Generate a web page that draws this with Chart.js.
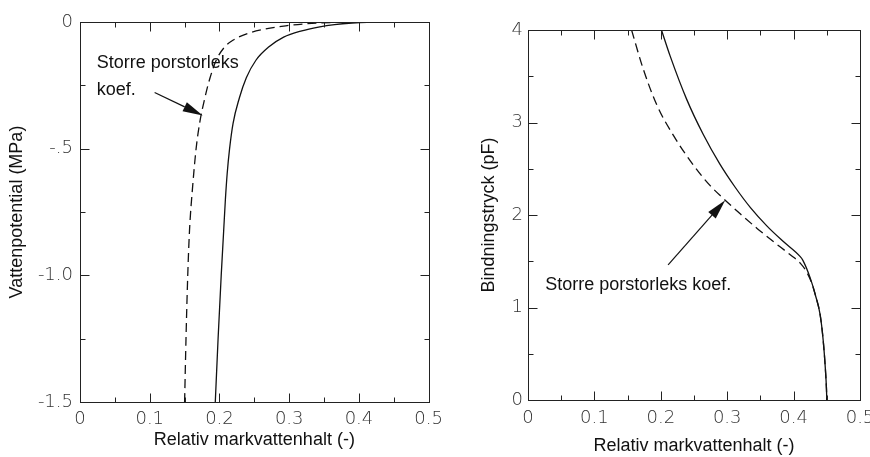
<!DOCTYPE html>
<html>
<head>
<meta charset="utf-8">
<script src="https://cdn.jsdelivr.net/npm/chart.js@4.4.1/dist/chart.umd.min.js"></script>
<style>
  html, body { margin: 0; padding: 0; background: #fff; width: 870px; height: 457px; overflow: hidden; }
  canvas { position: absolute; top: 0; }
  #leftChart { left: 0; }
  #rightChart { left: 450px; }
</style>
</head>
<body>
<canvas id="leftChart" width="450" height="457"></canvas>
<canvas id="rightChart" width="440" height="457"></canvas>
<script>
// Tick labels
const xTickLabels = ['0', '0.1', '0.2', '0.3', '0.4', '0.5'];
const leftYTickLabels = { '-1.5': '-1.5', '-1': '-1.0', '-0.5': '-.5', '0': '0' };
const rightYTickLabels = ['0', '1', '2', '3', '4'];

// Left chart: water potential (MPa) vs relative moisture content
const leftSolidX = [0.194, 0.198, 0.2025, 0.206, 0.2085, 0.211, 0.2145, 0.2195, 0.2285, 0.2385, 0.2525, 0.270, 0.292, 0.318, 0.342, 0.365, 0.390, 0.430, 0.500];
const leftSolidY = [-1.5, -1.25, -1.0, -0.825, -0.7, -0.6, -0.5, -0.4, -0.3, -0.22, -0.15, -0.10, -0.06, -0.035, -0.02, -0.01, -0.004, 0, 0];
const leftDashX = [0.150, 0.152, 0.1545, 0.157, 0.1615, 0.1665, 0.1715, 0.179, 0.1865, 0.1955, 0.207, 0.2205, 0.2405, 0.265, 0.295, 0.325, 0.360, 0.400, 0.500];
const leftDashY = [-1.5, -1.25, -1.0, -0.825, -0.65, -0.5, -0.4, -0.3, -0.22, -0.15, -0.10, -0.07, -0.045, -0.028, -0.015, -0.007, -0.002, 0, 0];

// Right chart: pF vs relative moisture content
const rightSolidX = [0.201, 0.214, 0.239, 0.264, 0.289, 0.312, 0.335, 0.360, 0.385, 0.410, 0.414, 0.425, 0.433, 0.440, 0.4445, 0.448, 0.4495, 0.450];
const rightSolidY = [4.0, 3.72, 3.25, 2.87, 2.55, 2.30, 2.08, 1.88, 1.71, 1.55, 1.51, 1.32, 1.13, 0.92, 0.65, 0.32, 0.12, 0];
const rightDashX = [0.156, 0.173, 0.194, 0.219, 0.249, 0.274, 0.297, 0.320, 0.345, 0.370, 0.395, 0.410, 0.420, 0.428, 0.433, 0.440, 0.4445, 0.448, 0.4495, 0.450];
const rightDashY = [4.0, 3.59, 3.19, 2.86, 2.54, 2.32, 2.16, 2.01, 1.855, 1.71, 1.57, 1.48, 1.38, 1.25, 1.13, 0.92, 0.65, 0.32, 0.12, 0];

const toPoints = (xs, ys) => xs.map((v, i) => ({ x: v, y: ys[i] }));

const tickFont = { family: "'DejaVu Sans', sans-serif", size: 18, weight: 200 };
const titleFont = { family: "'Liberation Sans', Arial, sans-serif", size: 18 };
const noteFont = "18px 'Liberation Sans', Arial, sans-serif";

// frame, inward ticks on all four sides, text notes and arrow
const frameAndTicks = {
  id: 'frameAndTicks',
  afterDatasetsDraw(chart, args, opts) {
    const { ctx, chartArea: a, scales: { x, y } } = chart;
    const L = Math.round(a.left) + 0.5, R = Math.round(a.right) + 0.5;
    const T = Math.round(a.top) + 0.5, B = Math.round(a.bottom) + 0.5;
    ctx.save();
    ctx.strokeStyle = '#222';
    ctx.lineWidth = 1;
    ctx.strokeRect(L, T, R - L, B - T);

    ctx.beginPath();
    let n = Math.round((x.max - x.min) / opts.xMinor);
    for (let i = 0; i <= n; i++) {
      const v = x.min + i * opts.xMinor;
      const px = Math.round(x.getPixelForValue(v)) + 0.5;
      const len = (i % opts.xEvery === 0) ? 9 : 5;
      ctx.moveTo(px, B); ctx.lineTo(px, B - len);
      ctx.moveTo(px, T); ctx.lineTo(px, T + len);
    }
    n = Math.round((y.max - y.min) / opts.yMinor);
    for (let i = 0; i <= n; i++) {
      const v = y.min + i * opts.yMinor;
      const py = Math.round(y.getPixelForValue(v)) + 0.5;
      const len = (i % opts.yEvery === 0) ? 9 : 5;
      ctx.moveTo(L, py); ctx.lineTo(L + len, py);
      ctx.moveTo(R, py); ctx.lineTo(R - len, py);
    }
    ctx.stroke();

    // notes
    ctx.fillStyle = '#111';
    ctx.font = noteFont;
    ctx.textBaseline = 'middle';
    ctx.textAlign = 'left';
    opts.notes.forEach(nt => {
      ctx.fillText(nt.text, x.getPixelForValue(nt.x), y.getPixelForValue(nt.y));
    });

    // arrow
    const ar = opts.arrow;
    const x0 = x.getPixelForValue(ar.from[0]), y0 = y.getPixelForValue(ar.from[1]);
    const x1 = x.getPixelForValue(ar.to[0]), y1 = y.getPixelForValue(ar.to[1]);
    const ang = Math.atan2(y1 - y0, x1 - x0);
    const hl = 20, hw = 5;
    const bx = x1 - hl * Math.cos(ang), by = y1 - hl * Math.sin(ang);
    ctx.strokeStyle = '#111';
    ctx.lineWidth = 1.2;
    ctx.beginPath();
    ctx.moveTo(x0, y0); ctx.lineTo(bx, by);
    ctx.stroke();
    ctx.beginPath();
    ctx.moveTo(x1, y1);
    ctx.lineTo(bx + hw * Math.sin(ang), by - hw * Math.cos(ang));
    ctx.lineTo(bx - hw * Math.sin(ang), by + hw * Math.cos(ang));
    ctx.closePath();
    ctx.fill();
    ctx.restore();
  }
};

function curve(points, dashed) {
  return {
    data: points,
    borderColor: '#111',
    borderWidth: 1.3,
    borderDash: dashed ? [9, 5] : [],
    pointRadius: 0,
    fill: false,
    cubicInterpolationMode: 'monotone'
  };
}

function makeChart(id, cfg) {
  return new Chart(document.getElementById(id), {
    type: 'line',
    data: {
      datasets: [curve(cfg.solid, false), curve(cfg.dash, true)]
    },
    options: {
      responsive: false,
      animation: false,
      layout: { padding: cfg.padding },
      plugins: {
        legend: { display: false },
        tooltip: { enabled: false },
        frameAndTicks: cfg.extras
      },
      scales: {
        x: {
          type: 'linear',
          min: 0, max: 0.5,
          grid: { display: false, drawTicks: false },
          border: { display: false },
          ticks: {
            stepSize: 0.1,
            padding: cfg.xTickPad,
            color: '#333',
            font: tickFont,
            maxRotation: 0,
            callback: (v) => xTickLabels[Math.round(v * 10)]
          },
          title: { display: true, text: 'Relativ markvattenhalt (-)', color: '#111', font: titleFont, padding: cfg.xTitlePad },
          afterFit: (s) => { s.height = cfg.xHeight; }
        },
        y: {
          type: 'linear',
          min: cfg.yMin, max: cfg.yMax,
          grid: { display: false, drawTicks: false },
          border: { display: false },
          ticks: {
            stepSize: cfg.yStep,
            padding: cfg.yTickPad,
            color: '#333',
            font: tickFont,
            callback: cfg.yLabel
          },
          title: { display: true, text: cfg.yTitle, color: '#111', font: titleFont, padding: { top: 6, bottom: 4 } },
          afterFit: (s) => { s.width = cfg.yWidth; }
        }
      }
    },
    plugins: [frameAndTicks]
  });
}

makeChart('leftChart', {
  solid: toPoints(leftSolidX, leftSolidY),
  dash: toPoints(leftDashX, leftDashY),
  padding: { top: 22, right: 19, left: 0, bottom: 0 },
  xHeight: 55, yWidth: 80, yTickPad: 7, xTickPad: 7,
  xTitlePad: { top: 4, bottom: 6 },
  yMin: -1.5, yMax: 0, yStep: 0.5,
  yLabel: (v) => leftYTickLabels[String(Math.round(v * 10) / 10)],
  yTitle: 'Vattenpotential (MPa)',
  extras: {
    xMinor: 0.05, xEvery: 2, yMinor: 0.25, yEvery: 2,
    notes: [
      { text: 'Storre porstorleks', x: 0.024, y: -0.163 },
      { text: 'koef.', x: 0.024, y: -0.27 }
    ],
    arrow: { from: [0.107, -0.278], to: [0.176, -0.369] }
  }
});

makeChart('rightChart', {
  solid: toPoints(rightSolidX, rightSolidY),
  dash: toPoints(rightDashX, rightDashY),
  padding: { top: 30, right: 30, left: 22, bottom: 0 },
  xHeight: 57, yWidth: 56, yTickPad: 5, xTickPad: 8,
  xTitlePad: { top: 4, bottom: 0 },
  yMin: 0, yMax: 4, yStep: 1,
  yLabel: (v) => rightYTickLabels[Math.round(v)],
  yTitle: 'Bindningstryck (pF)',
  extras: {
    xMinor: 0.05, xEvery: 2, yMinor: 0.5, yEvery: 2,
    notes: [
      { text: 'Storre porstorleks koef.', x: 0.026, y: 1.24 }
    ],
    arrow: { from: [0.211, 1.46], to: [0.297, 2.16] }
  }
});
</script>
</body>
</html>
